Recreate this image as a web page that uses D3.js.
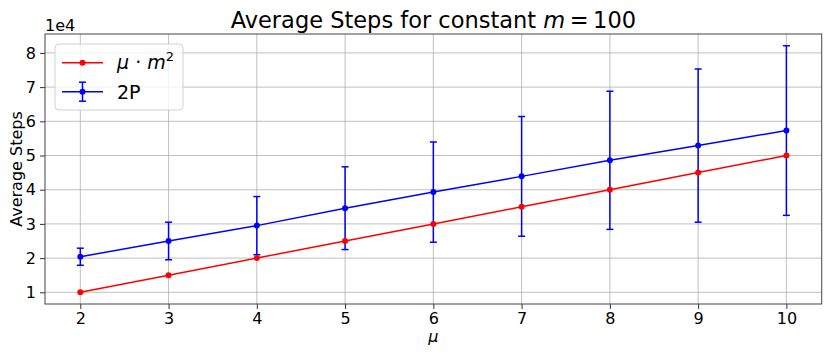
<!DOCTYPE html>
<html>
<head>
<meta charset="utf-8">
<script src="https://cdn.jsdelivr.net/npm/d3@7"></script>
<style>
  body { margin: 0; background: #fff; }
  svg { font-family: "DejaVu Sans", sans-serif; }
</style>
</head>
<body>
<svg width="830" height="356"></svg>
<script>
// data
const mu = [2, 3, 4, 5, 6, 7, 8, 9, 10];
const muM2 = [10000, 15000, 20000, 25000, 30000, 35000, 40000, 45000, 50000];
const twoP = [20400, 25000, 29500, 34600, 39300, 43900, 48600, 52900, 57300];
const twoPErr = [2500, 5500, 8500, 12100, 14650, 17500, 20200, 22400, 24800];
const yTicks = [10000, 20000, 30000, 40000, 50000, 60000, 70000, 80000];
const yTickLabels = ["1", "2", "3", "4", "5", "6", "7", "8"];

const svg = d3.select("svg");
const pLeft = 45, pRight = 821.7, pTop = 34, pBottom = 304;

const x = d3.scaleLinear().domain([1.6, 10.4]).range([pLeft, pRight]);
const y = d3.scaleLinear().domain([6580, 85530]).range([pBottom, pTop]);

// grid
const grid = svg.append("g").attr("stroke", "#b0b0b0").attr("stroke-width", 0.8);
grid.selectAll(".gx").data(mu).enter().append("line")
    .attr("x1", d => x(d)).attr("x2", d => x(d))
    .attr("y1", pTop).attr("y2", pBottom);
grid.selectAll(".gy").data(yTicks).enter().append("line")
    .attr("x1", pLeft).attr("x2", pRight)
    .attr("y1", d => y(d)).attr("y2", d => y(d));

// axes
const xAxis = svg.append("g")
    .attr("transform", `translate(0,${pBottom})`)
    .call(d3.axisBottom(x).tickValues(mu).tickFormat(d3.format("d")).tickSize(5).tickPadding(4));
const yAxis = svg.append("g")
    .attr("transform", `translate(${pLeft},0)`)
    .call(d3.axisLeft(y).tickValues(yTicks).tickFormat((d, i) => yTickLabels[i]).tickSize(5).tickPadding(4));
[xAxis, yAxis].forEach(a => {
    a.select(".domain").remove();
    a.selectAll("text").attr("font-size", 16).attr("fill", "#000")
        .attr("font-family", "DejaVu Sans");
    a.selectAll("line").attr("stroke", "#333");
});

// frame
svg.append("rect")
    .attr("x", pLeft).attr("y", pTop)
    .attr("width", pRight - pLeft).attr("height", pBottom - pTop)
    .attr("fill", "none").attr("stroke", "#444").attr("stroke-width", 1);

// 2P with error bars
const eb = svg.append("g").attr("stroke", "#0000ff").attr("stroke-width", 1.5);
eb.selectAll(".v").data(mu).enter().append("line")
    .attr("x1", d => x(d)).attr("x2", d => x(d))
    .attr("y1", (d, i) => y(twoP[i] - twoPErr[i]))
    .attr("y2", (d, i) => y(twoP[i] + twoPErr[i]));
[-1, 1].forEach(s => {
    eb.selectAll(".c" + (s + 1)).data(mu).enter().append("line")
        .attr("x1", d => x(d) - 3.5).attr("x2", d => x(d) + 3.5)
        .attr("y1", (d, i) => y(twoP[i] + s * twoPErr[i]))
        .attr("y2", (d, i) => y(twoP[i] + s * twoPErr[i]));
});

const line = d3.line().x(d => x(d[0])).y(d => y(d[1]));
svg.append("path")
    .datum(mu.map((m, i) => [m, twoP[i]]))
    .attr("d", line).attr("fill", "none")
    .attr("stroke", "#0000ff").attr("stroke-width", 1.5);
svg.selectAll(".bdot").data(mu).enter().append("circle")
    .attr("cx", d => x(d)).attr("cy", (d, i) => y(twoP[i]))
    .attr("r", 3).attr("fill", "#0000ff");

// mu * m^2
svg.append("path")
    .datum(mu.map((m, i) => [m, muM2[i]]))
    .attr("d", line).attr("fill", "none")
    .attr("stroke", "#ff0000").attr("stroke-width", 1.5);
svg.selectAll(".rdot").data(mu).enter().append("circle")
    .attr("cx", d => x(d)).attr("cy", (d, i) => y(muM2[i]))
    .attr("r", 3).attr("fill", "#ff0000");

// offset text
svg.append("text").attr("x", pLeft).attr("y", 31)
    .attr("font-size", 16).text("1e4");

// title
const title = svg.append("text")
    .attr("x", (pLeft + pRight) / 2).attr("y", 28)
    .attr("text-anchor", "middle").attr("font-size", 22.5);
title.append("tspan").text("Average Steps for constant ");
title.append("tspan").attr("font-style", "italic").text("m");
title.append("tspan").text("\u2009=\u2009100");

// axis labels
svg.append("text")
    .attr("x", (pLeft + pRight) / 2).attr("y", 342)
    .attr("text-anchor", "middle").attr("font-size", 16)
    .attr("font-style", "italic").text("μ");
svg.append("text")
    .attr("transform", `translate(22,${(pTop + pBottom) / 2}) rotate(-90)`)
    .attr("text-anchor", "middle").attr("font-size", 16)
    .text("Average Steps");

// legend
const lg = svg.append("g");
lg.append("rect")
    .attr("x", 55).attr("y", 44).attr("width", 128).attr("height", 66).attr("rx", 4)
    .attr("fill", "#fff").attr("fill-opacity", 0.8)
    .attr("stroke", "#d0d0d0").attr("stroke-width", 1);

lg.append("line").attr("x1", 62).attr("x2", 103).attr("y1", 62.7).attr("y2", 62.7)
    .attr("stroke", "#ff0000").attr("stroke-width", 1.5);
lg.append("circle").attr("cx", 82.5).attr("cy", 62.7).attr("r", 3).attr("fill", "#ff0000");
const t1 = lg.append("text").attr("x", 117).attr("y", 69).attr("font-size", 19);
t1.append("tspan").attr("font-style", "italic").text("μ");
t1.append("tspan").text(" · ");
t1.append("tspan").attr("font-style", "italic").text("m");
t1.append("tspan").attr("font-size", 13).attr("dy", -8).text("2");

const ly = 91.7;
lg.append("line").attr("x1", 62).attr("x2", 103).attr("y1", ly).attr("y2", ly)
    .attr("stroke", "#0000ff").attr("stroke-width", 1.5);
lg.append("line").attr("x1", 82.5).attr("x2", 82.5).attr("y1", ly - 9.5).attr("y2", ly + 9.5)
    .attr("stroke", "#0000ff").attr("stroke-width", 1.5);
[-9.5, 9.5].forEach(o => {
    lg.append("line").attr("x1", 79).attr("x2", 86).attr("y1", ly + o).attr("y2", ly + o)
        .attr("stroke", "#0000ff").attr("stroke-width", 1.5);
});
lg.append("circle").attr("cx", 82.5).attr("cy", ly).attr("r", 3).attr("fill", "#0000ff");
lg.append("text").attr("x", 117).attr("y", 98.5).attr("font-size", 19).text("2P");
</script>
</body>
</html>
